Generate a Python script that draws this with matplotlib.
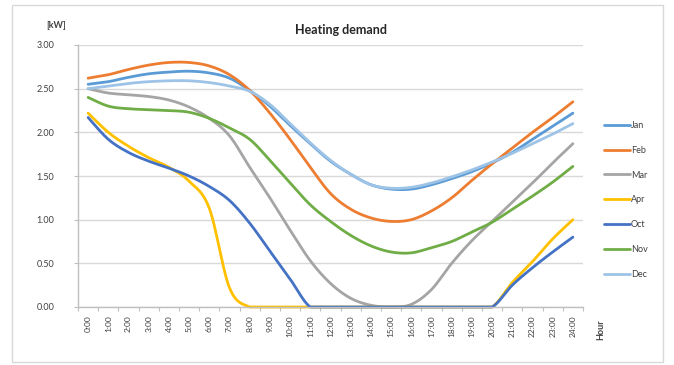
import numpy as np
import matplotlib
matplotlib.use("Agg")
import matplotlib.pyplot as plt
from matplotlib.patches import Rectangle

plt.rcParams['font.family'] = ['Lato', 'DejaVu Sans']

hours = [f"{h}:00" for h in range(25)]

jan = [2.55, 2.58, 2.63, 2.67, 2.69, 2.70, 2.68, 2.62, 2.48, 2.30, 2.08, 1.87, 1.67,
       1.52, 1.40, 1.35, 1.35, 1.40, 1.47, 1.55, 1.65, 1.77, 1.92, 2.07, 2.22]
feb = [2.62, 2.66, 2.72, 2.77, 2.80, 2.80, 2.76, 2.66, 2.48, 2.22, 1.92, 1.60, 1.30,
       1.12, 1.02, 0.98, 1.00, 1.10, 1.25, 1.45, 1.64, 1.82, 2.00, 2.17, 2.35]
mar = [2.50, 2.45, 2.43, 2.41, 2.37, 2.29, 2.16, 1.96, 1.60, 1.25, 0.88, 0.53, 0.27,
       0.10, 0.02, 0.00, 0.03, 0.20, 0.50, 0.76, 0.98, 1.20, 1.42, 1.65, 1.87]
apr = [2.22, 2.00, 1.84, 1.71, 1.60, 1.44, 1.13, 0.22, 0.00, 0.00, 0.00, 0.00, 0.00,
       0.00, 0.00, 0.00, 0.00, 0.00, 0.00, 0.00, 0.00, 0.28, 0.52, 0.78, 1.00]
oct_ = [2.17, 1.92, 1.77, 1.67, 1.59, 1.50, 1.38, 1.22, 0.96, 0.64, 0.32, 0.00, 0.00,
        0.00, 0.00, 0.00, 0.00, 0.00, 0.00, 0.00, 0.00, 0.25, 0.45, 0.63, 0.80]
nov = [2.40, 2.30, 2.27, 2.26, 2.25, 2.23, 2.16, 2.05, 1.92, 1.68, 1.42, 1.17, 0.98,
       0.82, 0.70, 0.63, 0.62, 0.68, 0.75, 0.86, 0.97, 1.12, 1.27, 1.43, 1.61]
dec = [2.50, 2.53, 2.56, 2.58, 2.59, 2.59, 2.57, 2.53, 2.47, 2.32, 2.10, 1.88, 1.68,
       1.52, 1.40, 1.36, 1.37, 1.42, 1.49, 1.57, 1.66, 1.76, 1.87, 1.98, 2.10]

series = [("Jan", jan, "#5B9BD5"), ("Feb", feb, "#ED7D31"), ("Mar", mar, "#A5A5A5"),
          ("Apr", apr, "#FFC000"), ("Oct", oct_, "#4472C4"), ("Nov", nov, "#70AD47"),
          ("Dec", dec, "#9DC3E6")]


def smooth(y, n=20):
    """Bezier smoothing through every point (control points at 1/6 of neighbour span)."""
    y = np.asarray(y, float)
    x = np.arange(len(y), dtype=float)
    xs, ys = [], []
    for i in range(len(y) - 1):
        i0, i3 = max(i - 1, 0), min(i + 2, len(y) - 1)
        p0 = np.array([x[i], y[i]])
        p3 = np.array([x[i + 1], y[i + 1]])
        c1 = p0 + (np.array([x[i + 1], y[i + 1]]) - np.array([x[i0], y[i0]])) / 6
        c2 = p3 - (np.array([x[i3], y[i3]]) - np.array([x[i], y[i]])) / 6
        t = np.linspace(0, 1, n, endpoint=(i == len(y) - 2))[:, None]
        pts = ((1 - t) ** 3) * p0 + 3 * ((1 - t) ** 2) * t * c1 + 3 * (1 - t) * t ** 2 * c2 + t ** 3 * p3
        xs.append(pts[:, 0]); ys.append(pts[:, 1])
    return np.concatenate(xs), np.clip(np.concatenate(ys), 0, None)


W, H = 674, 365
fig = plt.figure(figsize=(W / 100, H / 100), dpi=100)
fig.patches.append(Rectangle((12 / W, 1 - 362 / H), 651 / W, 357 / H, transform=fig.transFigure,
                             fill=False, edgecolor="#D9D9D9", lw=1.0))

ax = fig.add_axes([78 / W, 1 - 307 / H, 505 / W, 262 / H])
for name, vals, col in series:
    xs, ys = smooth(vals)
    ax.plot(xs, ys, color=col, lw=2.0, label=name, clip_on=False, solid_capstyle="round")

ax.set_xlim(-0.5, 24.5)
ax.set_ylim(0, 3)
ax.set_yticks(np.arange(0, 3.01, 0.5))
ax.set_yticklabels([f"{v:.2f}" for v in np.arange(0, 3.01, 0.5)])
ax.set_xticks(range(25))
ax.set_xticklabels(hours, rotation=90)
ax.set_xticks(np.arange(-0.5, 25, 1), minor=True)
ax.tick_params(axis="x", which="major", length=0, pad=6, labelsize=6, labelcolor="#404040")
ax.tick_params(axis="x", which="minor", length=3, color="#BFBFBF", width=0.8)
ax.tick_params(axis="y", length=3, color="#BFBFBF", width=0.8, pad=14, labelsize=6.5,
               labelcolor="#404040")
ax.grid(axis="y", color="#D9D9D9", lw=1.0)
ax.set_axisbelow(True)
for s in ["top", "right"]:
    ax.spines[s].set_visible(False)
for s in ["left", "bottom"]:
    ax.spines[s].set_color("#BFBFBF")
    ax.spines[s].set_linewidth(1.0)

fig.text(341 / W, 1 - 30 / H, "Heating demand", ha="center", va="center",
         fontsize=9, fontweight="bold", color="#262626")
fig.text(56 / W, 1 - 26 / H, "[kW]", ha="center", va="center", fontsize=6.5,
         fontweight="bold", color="#404040")
fig.text(601 / W, 1 - 330 / H, "Hour", ha="center", va="center", rotation=90,
         fontsize=6.5, fontweight="bold", color="#404040")

leg = ax.legend(loc="upper left", bbox_to_anchor=(604 / W, 1 - 121 / H),
                bbox_transform=fig.transFigure, frameon=False, fontsize=6.5,
                handlelength=2.9, handletextpad=0.1, labelspacing=1.75, borderpad=0,
                borderaxespad=0)
for t in leg.get_texts():
    t.set_color("#404040")

fig.savefig("out.png", dpi=100)
